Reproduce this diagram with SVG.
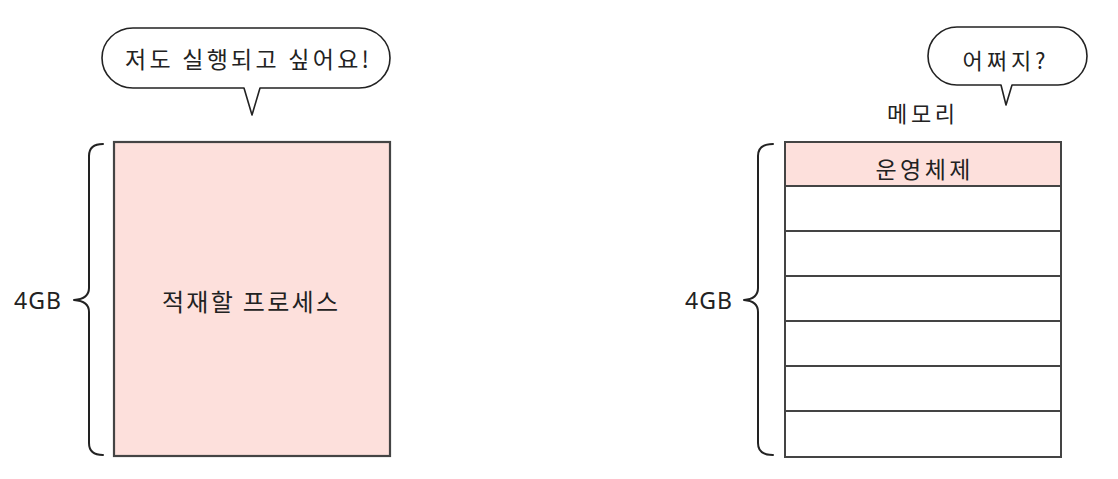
<svg xmlns="http://www.w3.org/2000/svg" width="1118" height="479" viewBox="0 0 1118 479">
<style>
.t{font-family:"Noto Sans CJK KR","Noto Sans",sans-serif;fill:#222;text-anchor:middle;dominant-baseline:central}
.g{font-family:"Noto Sans",sans-serif;fill:#222;text-anchor:middle;dominant-baseline:central;font-size:23px;letter-spacing:1px}
.box{stroke:#444;stroke-width:2.2;fill:#fde0dc}
.cell{stroke:#444;stroke-width:2;fill:#fff}
.brace{fill:none;stroke:#222;stroke-width:2;stroke-linecap:round;stroke-linejoin:round}
.bubble{fill:#fff;stroke:#222;stroke-width:1.6;stroke-linejoin:round}
</style>
<rect width="1118" height="479" fill="#fff"/>
<g id="bubble-left">
<path class="bubble" d="M133,28 L359,28 A31,30 0 0 1 359,88 L260,88 L252,115 L244,88 L133,88 A31,30 0 0 1 133,28 Z"/>
<text class="t" x="247" y="58" font-size="23" textLength="244" lengthAdjust="spacing">저도 실행되고 싶어요!</text>
</g>
<g id="process">
<rect class="box" x="114" y="142" width="276" height="314"/>
<text class="t" x="250" y="300" font-size="24" textLength="176" lengthAdjust="spacing">적재할 프로세스</text>
</g>
<g id="brace-left">
<path class="brace" d="M103,144 Q89,144 89,156 L89,288 Q89,299 74,300 Q89,301 89,312 L89,443 Q89,455 103,455"/>
<text class="g" x="38" y="300">4GB</text>
</g>
<g id="bubble-right">
<path class="bubble" d="M957,27 L1058,27 A29,29 0 0 1 1058,85 L1012,85 L1006,105 L1001,85 L957,85 A29,29 0 0 1 957,27 Z"/>
<text class="t" x="1004" y="59" font-size="22" textLength="83" lengthAdjust="spacing">어쩌지?</text>
</g>
<g id="memory-label">
<text class="t" x="921" y="112" font-size="22" textLength="68" lengthAdjust="spacing">메모리</text>
</g>
<g id="memory">
<rect class="cell" x="785" y="142" width="276" height="315"/>
<rect class="box" x="785" y="142" width="276" height="44" style="stroke-width:2"/>
<text class="t" x="923" y="168" font-size="23" textLength="95" lengthAdjust="spacing">운영체제</text>
<g stroke="#444" stroke-width="2">
<line x1="785" y1="231" x2="1061" y2="231"/>
<line x1="785" y1="276" x2="1061" y2="276"/>
<line x1="785" y1="321" x2="1061" y2="321"/>
<line x1="785" y1="366" x2="1061" y2="366"/>
<line x1="785" y1="411" x2="1061" y2="411"/>
</g>
</g>
<g id="brace-right">
<path class="brace" d="M773,144 Q758,144 758,156 L758,288 Q758,299 744,300 Q758,301 758,312 L758,443 Q758,455 773,455"/>
<text class="g" x="709" y="300">4GB</text>
</g>
<g id="connectors"></g>
</svg>
